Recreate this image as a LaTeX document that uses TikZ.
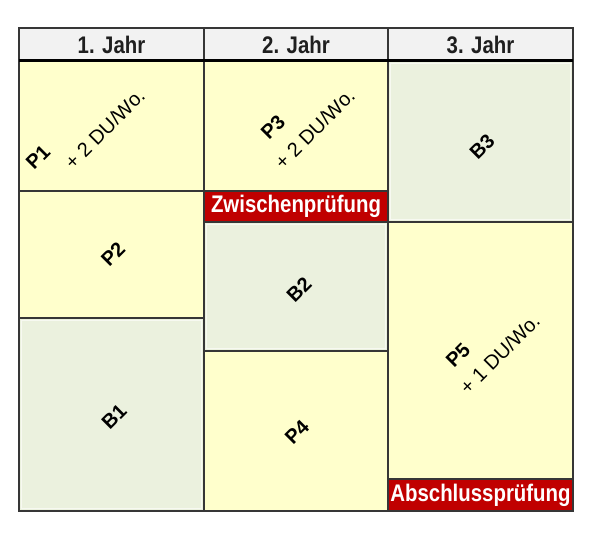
\documentclass[tikz,border=0pt]{standalone}
\usepackage{fontspec}
\setmainfont{Liberation Sans}
\newfontfamily\narrowfont[FakeStretch=0.85]{Liberation Sans}
\definecolor{yel}{HTML}{FFFFCC}
\definecolor{grn}{HTML}{EBF1DE}
\definecolor{hdr}{HTML}{F2F2F2}
\definecolor{redbar}{HTML}{C00000}
\definecolor{edge}{HTML}{363636}
\tikzset{
  cell/.style={draw=edge, line width=1.8pt, inner sep=0pt, outer sep=0pt},
  inset/.style={draw=white, draw opacity=0.6, line width=1pt},
  hdrtext/.style={font=\narrowfont\bfseries\fontsize{24}{28}\selectfont, text=black!88},
  redtext/.style={font=\narrowfont\bfseries\fontsize{24}{28}\selectfont, text=white},
  lab/.style={rotate=45, inner sep=0pt, font=\bfseries\fontsize{20}{24}\selectfont},
  labb/.style={rotate=45, inner sep=0pt, anchor=base west, font=\bfseries\fontsize{20}{24}\selectfont},
  sub/.style={rotate=45, inner sep=0pt, anchor=base west, font=\fontsize{20}{24}\selectfont}
}
\begin{document}
\begin{tikzpicture}[x=1pt,y=-1pt]
\useasboundingbox (0,0) rectangle (600,535);
% header
\node[cell, fill=hdr, minimum width=185pt, minimum height=33pt] (h1) at (111.5,44.5) {};
\node[cell, fill=hdr, minimum width=184pt, minimum height=33pt] (h2) at (296,44.5) {};
\node[cell, fill=hdr, minimum width=185pt, minimum height=33pt] (h3) at (480.5,44.5) {};
\node[hdrtext] at (h1.center) {1. Jahr};
\node[hdrtext] at (h2.center) {2. Jahr};
\node[hdrtext] at (h3.center) {3. Jahr};
% column 1
\node[cell, fill=yel, minimum width=185pt, minimum height=130pt] (p1) at (111.5,126) {};
\node[cell, fill=yel, minimum width=185pt, minimum height=127pt] (p2) at (111.5,254.5) {};
\node[cell, fill=grn, minimum width=185pt, minimum height=193pt] (b1) at (111.5,414.5) {};
% column 2
\node[cell, fill=yel, minimum width=184pt, minimum height=130pt] (p3) at (296,126) {};
\node[cell, fill=redbar, minimum width=184pt, minimum height=31pt] (zp) at (296,206.5) {};
\node[cell, fill=grn, minimum width=184pt, minimum height=129pt] (b2) at (296,286.5) {};
\node[cell, fill=yel, minimum width=184pt, minimum height=160pt] (p4) at (296,431) {};
% column 3
\node[cell, fill=grn, minimum width=185pt, minimum height=161pt] (b3) at (480.5,141.5) {};
\node[cell, fill=yel, minimum width=185pt, minimum height=257pt] (p5) at (480.5,350.5) {};
\node[cell, fill=redbar, minimum width=185pt, minimum height=32pt] (ap) at (480.5,495) {};
% light inset edges of the grey-green cells
\draw[inset] ([shift={(2.5pt,2.5pt)}]b1.south west) rectangle ([shift={(-2.5pt,-2.5pt)}]b1.north east);
\draw[inset] ([shift={(2.5pt,2.5pt)}]b2.south west) rectangle ([shift={(-2.5pt,-2.5pt)}]b2.north east);
\draw[inset] ([shift={(2.5pt,2.5pt)}]b3.south west) rectangle ([shift={(-2.5pt,-2.5pt)}]b3.north east);
% frame
\draw[edge, line width=2pt] (h1.north west) rectangle (ap.south east);
\draw[black, line width=3pt] (h1.south west) -- (h3.south east);
% red labels
\node[redtext] at (zp.center) {Zwischenprüfung};
\node[redtext] at (ap.center) {Abschlussprüfung};
% rotated labels
\node[labb] (t1) at (34,171) {P1};
\node[sub] (s1) at (73,170.5) {+ 2 DU/Wo.};
\node[lab] (t2) at (113,254) {P2};
\node[lab] (t3) at (114,417) {B1};
\node[labb] (t4) at (269,141) {P3};
\node[sub] (s4) at (283,170.5) {+ 2 DU/Wo.};
\node[lab] (t5) at (299,290) {B2};
\node[lab] (t6) at (297,432) {P4};
\node[lab] (t7) at (482,147) {B3};
\node[labb] (t8) at (454,369) {P5};
\node[sub] (s8) at (468,396) {+ 1 DU/Wo.};
\end{tikzpicture}
\end{document}
